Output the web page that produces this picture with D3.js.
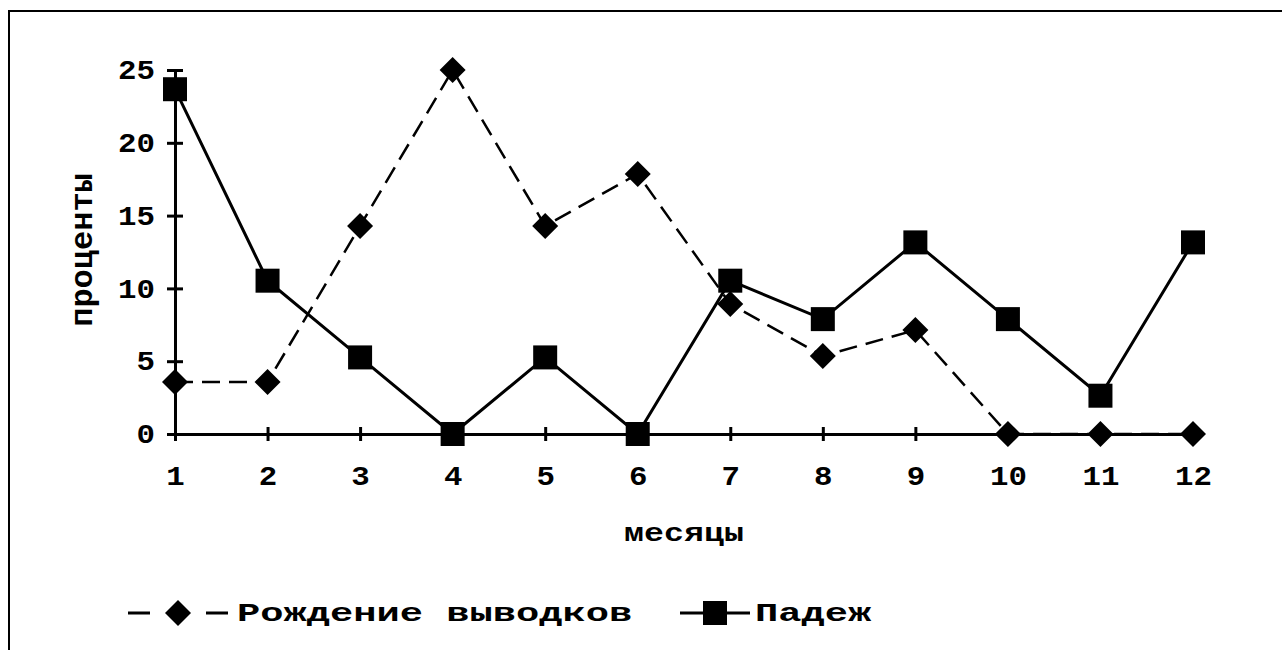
<!DOCTYPE html>
<html>
<head>
<meta charset="utf-8">
<script src="https://cdn.jsdelivr.net/npm/d3@7"></script>
<style>
  html, body { margin: 0; padding: 0; background: #fff; }
  svg { display: block; }
  text { font-family: "Liberation Mono", "Courier New", monospace; font-weight: bold; fill: #000; }
</style>
</head>
<body>
<svg id="chart" width="1282" height="650"></svg>
<script>
const months = [1, 2, 3, 4, 5, 6, 7, 8, 9, 10, 11, 12];
const births = [3.57, 3.57, 14.29, 25, 14.29, 17.86, 8.93, 5.36, 7.14, 0, 0, 0];
const deaths = [23.68, 10.53, 5.26, 0, 5.26, 0, 10.53, 7.89, 13.16, 7.89, 2.63, 13.16];
const yTicks = [0, 5, 10, 15, 20, 25];
const seriesNames = ["Рождение выводков", "Падеж"];
const xTitle = "месяцы";
const yTitle = "проценты";

const svg = d3.select("#chart");

// outer frame (extends beyond right / bottom edges)
svg.append("rect")
  .attr("x", 9).attr("y", 11).attr("width", 1400).attr("height", 800)
  .attr("fill", "none").attr("stroke", "#000").attr("stroke-width", 2);

const x = d3.scalePoint().domain(months).range([175, 1193]);
const y = d3.scaleLinear().domain([0, 25]).range([434, 70]);

const tickSX = 1.14;

// Y axis
const gy = svg.append("g").attr("transform", `translate(${x(months[0])},0)`)
  .call(d3.axisLeft(y).tickValues(yTicks).tickSize(8).tickPadding(0).tickSizeOuter(0));
gy.select(".domain").attr("stroke", "#000").attr("stroke-width", 3);
gy.selectAll(".tick line").attr("x1", 8).attr("x2", -8).attr("stroke", "#000").attr("stroke-width", 3);
gy.selectAll(".tick text")
  .attr("font-size", 27).attr("font-family", null)
  .attr("text-anchor", "end")
  .attr("x", -20 / tickSX)
  .attr("transform", `scale(${tickSX},1)`);

// X axis
const gx = svg.append("g").attr("transform", `translate(0,${y(0)})`)
  .call(d3.axisBottom(x).tickSize(7).tickPadding(0).tickSizeOuter(0));
gx.select(".domain").attr("stroke", "#000").attr("stroke-width", 3);
gx.selectAll(".tick line").attr("y1", -7).attr("y2", 7).attr("stroke", "#000").attr("stroke-width", 3);
gx.selectAll(".tick text")
  .attr("font-size", 27).attr("font-family", null)
  .attr("y", 32)
  .attr("transform", `scale(${tickSX},1)`);

// Axis titles
svg.append("text")
  .attr("transform", `translate(684,541) scale(1.28,1)`)
  .attr("text-anchor", "middle").attr("font-size", 26)
  .text(xTitle);

svg.append("text")
  .attr("transform", `translate(92,250) rotate(-90)`)
  .attr("text-anchor", "middle").attr("font-size", 32)
  .text(yTitle);

// Lines
const line = d3.line().x((d, i) => x(months[i])).y(d => y(d));

svg.append("path").datum(births)
  .attr("d", line).attr("fill", "none").attr("stroke", "#000")
  .attr("stroke-width", 2.5).attr("stroke-dasharray", "18,9");

svg.append("path").datum(deaths)
  .attr("d", line).attr("fill", "none").attr("stroke", "#000")
  .attr("stroke-width", 3);

const diamond = "M0,-13L13,0L0,13L-13,0Z";

svg.append("g").selectAll("path").data(births).join("path")
  .attr("d", diamond)
  .attr("transform", (d, i) => `translate(${x(months[i])},${y(d)})`)
  .attr("fill", "#000");

svg.append("g").selectAll("rect").data(deaths).join("rect")
  .attr("x", (d, i) => x(months[i]) - 12)
  .attr("y", d => y(d) - 12)
  .attr("width", 24).attr("height", 24)
  .attr("fill", "#000");

// Legend
const ly = 613;
const legSX = 1.55;
svg.append("line").attr("x1", 128).attr("x2", 228).attr("y1", ly).attr("y2", ly)
  .attr("stroke", "#000").attr("stroke-width", 3).attr("stroke-dasharray", "22,56,22");
svg.append("path").attr("d", diamond).attr("transform", `translate(178,${ly})`).attr("fill", "#000");
svg.append("text")
  .attr("transform", `translate(237,${ly + 8}) scale(${legSX},1)`)
  .attr("font-size", 25)
  .text(seriesNames[0]);

svg.append("line").attr("x1", 680).attr("x2", 750).attr("y1", ly).attr("y2", ly)
  .attr("stroke", "#000").attr("stroke-width", 3);
svg.append("rect").attr("x", 715 - 12).attr("y", ly - 12).attr("width", 24).attr("height", 24).attr("fill", "#000");
svg.append("text")
  .attr("transform", `translate(755,${ly + 8}) scale(${legSX},1)`)
  .attr("font-size", 25)
  .text(seriesNames[1]);
</script>
</body>
</html>
